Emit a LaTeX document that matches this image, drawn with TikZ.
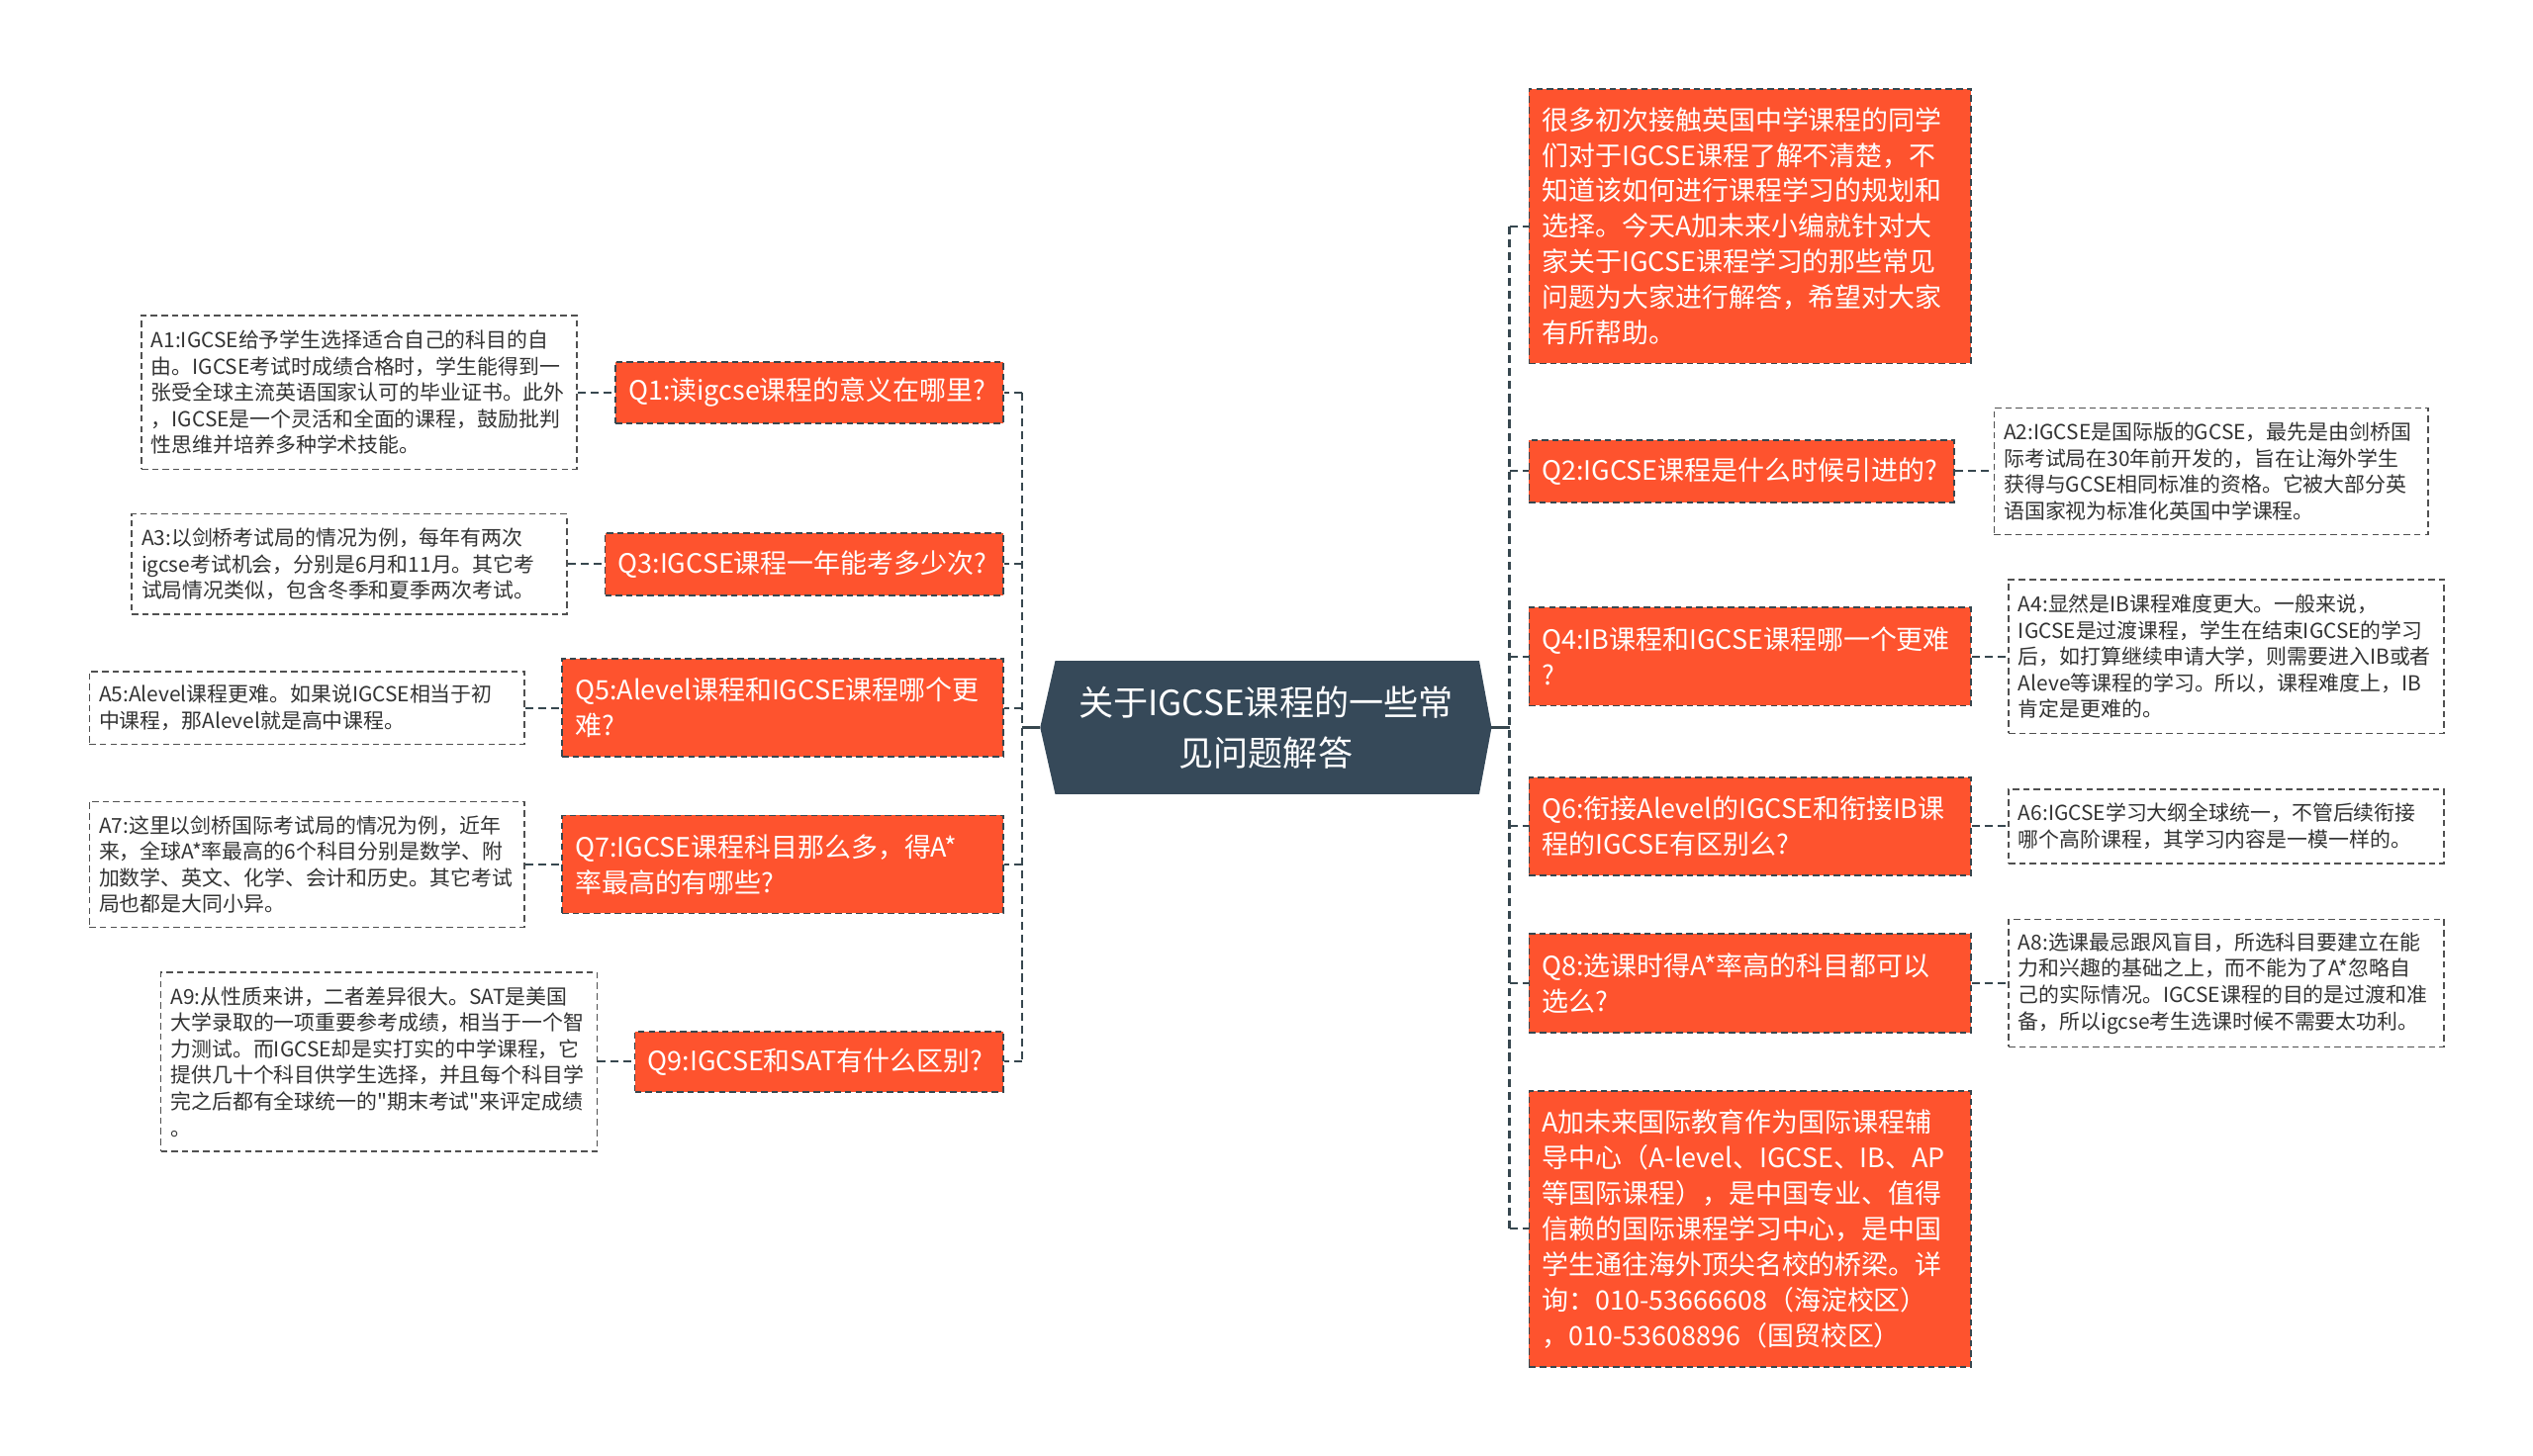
\documentclass[tikz,border=0pt]{standalone}
\usepackage{fontspec}
\setmainfont{Noto Sans CJK SC}[Ligatures=TeXOff]
\usetikzlibrary{backgrounds}
\hyphenpenalty=10000
\exhyphenpenalty=10000
\definecolor{qorange}{RGB}{254,83,46}
\definecolor{hubc}{RGB}{54,73,89}
\definecolor{connc}{RGB}{55,71,79}
\definecolor{aline}{RGB}{80,80,80}
\definecolor{atext}{RGB}{51,51,51}
\tikzset{
  qbox/.style={draw=connc, line width=1pt, dash pattern=on 4pt off 2.5pt, fill=qorange, text=white,
    font=\fontsize{16.5}{22}\selectfont, align=left, inner xsep=8pt, inner ysep=0pt},
  abox/.style={draw=aline, line width=0.9pt, dash pattern=on 4pt off 2.5pt, fill=white, text=atext,
    font=\fontsize{12.8}{16.3}\selectfont, align=left, inner xsep=6pt, inner ysep=0pt},
  spine/.style={draw=connc, line width=1.6pt, dash pattern=on 5pt off 3pt},
  link/.style={draw=connc, line width=1.2pt, dash pattern=on 5pt off 3pt},
  hublink/.style={draw=connc, line width=1.6pt},
}
\begin{document}
\begin{tikzpicture}[x=1pt,y=-1pt]
\useasboundingbox (0,0) rectangle (1568,901);

% hub
\node[font=\fontsize{21.5}{31}\selectfont, text=white, align=center, minimum width=279pt, minimum height=82pt, inner sep=0pt] (hub) at (783.6,450.5) {关于IGCSE课程的一些常\\见问题解答};
\begin{scope}[on background layer]
\fill[hubc] (hub.west) -- ([xshift=9.3pt]hub.north west) -- ([xshift=-7.6pt]hub.north east) -- (hub.east) -- ([xshift=-7.6pt]hub.south east) -- ([xshift=9.3pt]hub.south west) -- cycle;
\end{scope}

% left questions
\node[qbox, minimum width=240pt, text width=224pt, minimum height=38pt] (q1) at (501,243) {Q1:读igcse课程的意义在哪里?};
\node[qbox, minimum width=246.4pt, text width=230.4pt, minimum height=38.6pt] (q3) at (497.8,349.3) {Q3:IGCSE课程一年能考多少次?};
\node[qbox, minimum width=273pt, text width=257pt, minimum height=60.6pt] (q5) at (484.5,438.3) {Q5:Alevel课程和IGCSE课程哪个更\\难?};
\node[qbox, minimum width=273pt, text width=257pt, minimum height=60.6pt] (q7) at (484.5,535.3) {Q7:IGCSE课程科目那么多，得A*\\率最高的有哪些?};
\node[qbox, minimum width=228pt, text width=212pt, minimum height=37.5pt] (q9) at (507,657.5) {Q9:IGCSE和SAT有什么区别?};

% left answers
\node[abox, minimum width=269.4pt, text width=257.4pt, minimum height=95pt] (a1) at (222.3,243) {A1:IGCSE给予学生选择适合自己的科目的自\\由。IGCSE考试时成绩合格时，学生能得到一\\张受全球主流英语国家认可的毕业证书。此外\\，IGCSE是一个灵活和全面的课程，鼓励批判\\性思维并培养多种学术技能。};
\node[abox, minimum width=269.4pt, text width=257.4pt, minimum height=62pt] (a3) at (216.3,349.3) {A3:以剑桥考试局的情况为例，每年有两次\\igcse考试机会，分别是6月和11月。其它考\\试局情况类似，包含冬季和夏季两次考试。};
\node[abox, minimum width=269.4pt, text width=257.4pt, minimum height=45pt] (a5) at (190,438.3) {A5:Alevel课程更难。如果说IGCSE相当于初\\中课程，那Alevel就是高中课程。};
\node[abox, minimum width=269.4pt, text width=257.4pt, minimum height=78pt] (a7) at (190,535.3) {A7:这里以剑桥国际考试局的情况为例，近年\\来，全球A*率最高的6个科目分别是数学、附\\加数学、英文、化学、会计和历史。其它考试\\局也都是大同小异。};
\node[abox, minimum width=270pt, text width=258pt, minimum height=111pt] (a9) at (234.6,657.5) {A9:从性质来讲，二者差异很大。SAT是美国\\大学录取的一项重要参考成绩，相当于一个智\\力测试。而IGCSE却是实打实的中学课程，它\\提供几十个科目供学生选择，并且每个科目学\\完之后都有全球统一的"期末考试"来评定成绩\\。};

% right questions
\node[qbox, minimum width=273.4pt, text width=257.4pt, minimum height=170pt] (intro) at (1083.3,140) {很多初次接触英国中学课程的同学\\们对于IGCSE课程了解不清楚，不\\知道该如何进行课程学习的规划和\\选择。今天A加未来小编就针对大\\家关于IGCSE课程学习的那些常见\\问题为大家进行解答，希望对大家\\有所帮助。};
\node[qbox, minimum width=263pt, text width=247pt, minimum height=38.4pt] (q2) at (1078,291.8) {Q2:IGCSE课程是什么时候引进的?};
\node[qbox, minimum width=273.4pt, text width=257.4pt, minimum height=61pt] (q4) at (1083.3,406.5) {Q4:IB课程和IGCSE课程哪一个更难\\?};
\node[qbox, minimum width=273.4pt, text width=257.4pt, minimum height=60.6pt] (q6) at (1083.3,511.7) {Q6:衔接Alevel的IGCSE和衔接IB课\\程的IGCSE有区别么?};
\node[qbox, minimum width=273.4pt, text width=257.4pt, minimum height=61.5pt] (q8) at (1083.3,608.8) {Q8:选课时得A*率高的科目都可以\\选么?};
\node[qbox, minimum width=273.4pt, text width=257.4pt, minimum height=171pt] (outro) at (1083.3,760.9) {A加未来国际教育作为国际课程辅\\导中心（A-level、IGCSE、IB、AP\\等国际课程），是中国专业、值得\\信赖的国际课程学习中心，是中国\\学生通往海外顶尖名校的桥梁。详\\询：010-53666608（海淀校区）\\，010-53608896（国贸校区）};

% right answers
\node[abox, minimum width=268.5pt, text width=256.5pt, minimum height=78.5pt] (a2) at (1368.7,291.8) {A2:IGCSE是国际版的GCSE，最先是由剑桥国\\际考试局在30年前开发的，旨在让海外学生\\获得与GCSE相同标准的资格。它被大部分英\\语国家视为标准化英国中学课程。};
\node[abox, minimum width=269.5pt, text width=257.5pt, minimum height=95.3pt] (a4) at (1378.2,406.5) {A4:显然是IB课程难度更大。一般来说，\\IGCSE是过渡课程，学生在结束IGCSE的学习\\后，如打算继续申请大学，则需要进入IB或者\\Aleve等课程的学习。所以，课程难度上，IB\\肯定是更难的。};
\node[abox, minimum width=269.5pt, text width=257.5pt, minimum height=46pt] (a6) at (1378.2,511.7) {A6:IGCSE学习大纲全球统一，不管后续衔接\\哪个高阶课程，其学习内容是一模一样的。};
\node[abox, minimum width=269.5pt, text width=257.5pt, minimum height=79pt] (a8) at (1378.2,608.8) {A8:选课最忌跟风盲目，所选科目要建立在能\\力和兴趣的基础之上，而不能为了A*忽略自\\己的实际情况。IGCSE课程的目的是过渡和准\\备，所以igcse考生选课时候不需要太功利。};

% spines
\coordinate (lsp) at (632.6,450.5);
\coordinate (rsp) at (934.5,450.5);
\draw[hublink] (hub.west) -- (lsp);
\draw[hublink] (hub.east) -- (rsp);
\draw[spine] (lsp |- q1.east) -- (lsp |- q9.east);
\draw[spine] (rsp |- intro.west) -- (rsp |- outro.west);
\foreach \q in {q1,q3,q5,q7,q9} \draw[link] (lsp |- \q.east) -- (\q.east);
\foreach \q in {intro,q2,q4,q6,q8,outro} \draw[link] (rsp |- \q.west) -- (\q.west);

% answer links
\draw[link] (a1.east) -- (q1.west);
\draw[link] (a3.east) -- (q3.west);
\draw[link] (a5.east) -- (q5.west);
\draw[link] (a7.east) -- (q7.west);
\draw[link] (a9.east) -- (q9.west);
\draw[link] (q2.east) -- (a2.west);
\draw[link] (q4.east) -- (a4.west);
\draw[link] (q6.east) -- (a6.west);
\draw[link] (q8.east) -- (a8.west);
\end{tikzpicture}
\end{document}
